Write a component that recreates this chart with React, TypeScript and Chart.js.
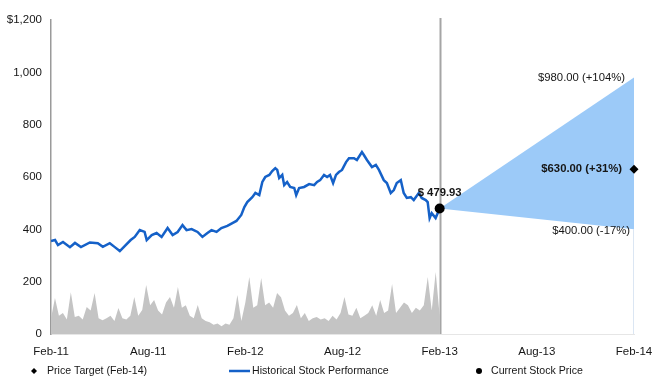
import React, { useEffect, useRef } from 'react';
import { Chart, registerables } from 'chart.js';

Chart.register(...registerables);

// ---- data ----
const xTickLabels = ['Feb-11', 'Aug-11', 'Feb-12', 'Aug-12', 'Feb-13', 'Aug-13', 'Feb-14'];
const yTickValues = [0, 200, 400, 600, 800, 1000, 1200];

// months since Feb-11
const priceMonths = [0, 0.25, 0.43, 0.74, 1.17, 1.48, 1.85, 2.4, 2.89, 3.2, 3.63, 3.94, 4.25, 4.55, 4.92, 5.17, 5.48, 5.78, 5.91, 6.22, 6.52, 6.83, 7.2, 7.51, 7.82, 8.12, 8.37, 8.68, 9.05, 9.35, 9.66, 9.91, 10.22, 10.52, 10.89, 11.2, 11.45, 11.75, 11.94, 12.12, 12.43, 12.62, 12.86, 13.05, 13.23, 13.48, 13.66, 13.85, 13.97, 14.09, 14.28, 14.4, 14.58, 14.77, 15.02, 15.14, 15.32, 15.63, 15.94, 16.25, 16.43, 16.62, 16.86, 17.05, 17.23, 17.42, 17.6, 17.78, 17.97, 18.22, 18.4, 18.71, 18.89, 19.2, 19.32, 19.51, 19.82, 20.06, 20.25, 20.55, 20.74, 20.98, 21.17, 21.35, 21.6, 21.78, 21.97, 22.22, 22.4, 22.71, 22.89, 23.14, 23.26, 23.38, 23.51, 23.75, 24];
const priceValues = [355, 359, 340, 352, 332, 348, 332, 350, 347, 333, 347, 332, 317, 336, 359, 371, 397, 390, 359, 378, 386, 371, 405, 378, 390, 416, 397, 401, 390, 371, 386, 397, 390, 405, 413, 424, 432, 455, 485, 504, 523, 539, 531, 581, 600, 608, 623, 634, 627, 596, 608, 569, 581, 562, 558, 531, 558, 562, 573, 569, 581, 588, 608, 600, 608, 577, 608, 619, 627, 657, 672, 672, 665, 695, 684, 665, 638, 646, 627, 588, 577, 539, 550, 577, 588, 539, 520, 523, 512, 539, 520, 512, 504, 443, 462, 443, 479.93];

// volume (drawn in price-axis units), evenly spaced Feb-11 .. Feb-13
const volumeValues = [60, 138, 70, 80, 55, 160, 65, 70, 55, 103, 90, 157, 60, 53, 60, 70, 50, 99, 60, 55, 70, 141, 70, 92, 187, 110, 130, 90, 75, 120, 141, 100, 180, 100, 110, 70, 60, 111, 60, 50, 45, 35, 40, 30, 40, 35, 60, 149, 50, 120, 218, 100, 110, 214, 110, 120, 100, 157, 140, 90, 70, 80, 111, 60, 80, 50, 60, 65, 55, 60, 50, 70, 55, 80, 141, 75, 70, 100, 60, 70, 80, 110, 70, 130, 80, 90, 191, 80, 100, 120, 110, 80, 100, 90, 110, 218, 90, 237, 70];

const currentMonth = 24;
const currentPrice = 479.93;
const targetMonth = 36;
const targetHigh = 980;
const targetBase = 630;
const targetLow = 400;

const legendLabels = ['Price Target (Feb-14)', 'Historical Stock Performance', 'Current Stock Price'];

// ---- styles ----
const FONT = '"Liberation Sans", Arial, Helvetica, sans-serif';
const TEXT = '#161616';
const BLUE = '#1561c8';
const FAN = '#9ccaf8';
const VOL = '#c4c4c4';

const pct = (v: number) => {
  const p = Math.round((v / currentPrice - 1) * 100);
  return (p >= 0 ? '+' : '') + p + '%';
};

const overlayPlugin = {
  id: 'overlay',
  afterDatasetDraw(chart: any, args: any) {
    if (args.index !== 0) return;
    const { ctx, chartArea, scales } = chart;
    const x = scales.x;
    const y = scales.y;
    ctx.save();
    const xc = Math.round(x.getPixelForValue(currentMonth)) + 0.5;
    ctx.strokeStyle = '#a5a5a5';
    ctx.lineWidth = 2;
    ctx.beginPath();
    ctx.moveTo(xc, chartArea.top - 2);
    ctx.lineTo(xc, chartArea.bottom);
    ctx.stroke();
    const xr = Math.round(x.getPixelForValue(targetMonth)) - 0.5;
    ctx.strokeStyle = '#dbe6f3';
    ctx.lineWidth = 1;
    ctx.beginPath();
    ctx.moveTo(xr, y.getPixelForValue(targetLow));
    ctx.lineTo(xr, chartArea.bottom);
    ctx.stroke();
    ctx.restore();
  },
  afterDatasetsDraw(chart: any) {
    const { ctx, scales } = chart;
    const x = scales.x;
    const y = scales.y;
    const xt = x.getPixelForValue(targetMonth);
    ctx.save();
    ctx.fillStyle = TEXT;
    ctx.textBaseline = 'middle';
    ctx.textAlign = 'right';
    ctx.font = `11.3px ${FONT}`;
    ctx.fillText(`$${targetHigh.toFixed(2)} (${pct(targetHigh)})`, xt - 9, y.getPixelForValue(targetHigh));
    ctx.fillText(`$${targetLow.toFixed(2)} (${pct(targetLow)})`, xt - 4, y.getPixelForValue(targetLow) + 2);
    ctx.font = `bold 11.3px ${FONT}`;
    ctx.fillText(`$${targetBase.toFixed(2)} (${pct(targetBase)})`, xt - 12, y.getPixelForValue(targetBase));
    ctx.textAlign = 'center';
    ctx.fillText(`$ ${currentPrice.toFixed(2)}`, x.getPixelForValue(currentMonth), y.getPixelForValue(currentPrice) - 16);
    ctx.restore();
  },
  afterDraw(chart: any) {
    const { ctx } = chart;
    const ly = 371;
    ctx.save();
    ctx.fillStyle = '#000';
    // diamond
    ctx.beginPath();
    ctx.moveTo(34, ly - 3);
    ctx.lineTo(37, ly);
    ctx.lineTo(34, ly + 3);
    ctx.lineTo(31, ly);
    ctx.closePath();
    ctx.fill();
    // line
    ctx.strokeStyle = BLUE;
    ctx.lineWidth = 2.5;
    ctx.beginPath();
    ctx.moveTo(229, ly);
    ctx.lineTo(250, ly);
    ctx.stroke();
    // dot
    ctx.beginPath();
    ctx.arc(479, ly, 3, 0, Math.PI * 2);
    ctx.fill();
    ctx.fillStyle = TEXT;
    ctx.font = `10.6px ${FONT}`;
    ctx.textBaseline = 'middle';
    ctx.textAlign = 'left';
    ctx.fillText(legendLabels[0], 47, ly);
    ctx.fillText(legendLabels[1], 252, ly);
    ctx.fillText(legendLabels[2], 491, ly);
    ctx.restore();
  },
};

export default function App() {
  const canvasRef = useRef<HTMLCanvasElement | null>(null);

  useEffect(() => {
    if (!canvasRef.current) return;
    const volN = volumeValues.length;
    const volumeData = volumeValues.map((v, i) => ({ x: (i * currentMonth) / (volN - 1), y: v }));
    const n = Math.min(priceMonths.length, priceValues.length);
    const priceData = priceMonths.slice(0, n).map((m, i) => ({ x: m, y: priceValues[i] }));

    const chart = new Chart(canvasRef.current, {
      type: 'line',
      data: {
        datasets: [
          {
            label: 'Volume',
            data: volumeData,
            borderWidth: 0,
            borderColor: VOL,
            backgroundColor: VOL,
            fill: 'origin',
            pointRadius: 0,
            tension: 0,
            order: 6,
          },
          {
            label: legendLabels[1],
            data: priceData,
            borderColor: BLUE,
            borderWidth: 2.5,
            pointRadius: 0,
            fill: false,
            tension: 0,
            order: 3,
          },
          {
            label: 'Fan high',
            data: [
              { x: currentMonth, y: currentPrice },
              { x: targetMonth, y: targetHigh },
            ],
            borderWidth: 0,
            borderColor: FAN,
            backgroundColor: FAN,
            pointRadius: 0,
            fill: '+1',
            tension: 0,
            order: 5,
          },
          {
            label: 'Fan low',
            data: [
              { x: currentMonth, y: currentPrice },
              { x: targetMonth, y: targetLow },
            ],
            borderWidth: 0,
            borderColor: FAN,
            backgroundColor: FAN,
            pointRadius: 0,
            fill: false,
            tension: 0,
            order: 5,
          },
          {
            label: legendLabels[2],
            data: [{ x: currentMonth, y: currentPrice }],
            showLine: false,
            pointRadius: 5,
            pointBackgroundColor: '#000',
            pointBorderColor: '#000',
            pointBorderWidth: 0,
            order: 1,
          },
          {
            label: legendLabels[0],
            data: [{ x: targetMonth, y: targetBase }],
            showLine: false,
            pointStyle: 'rectRot',
            pointRadius: 4.5,
            pointBackgroundColor: '#000',
            pointBorderColor: '#000',
            pointBorderWidth: 0,
            clip: false,
            order: 1,
          } as any,
        ],
      },
      options: {
        responsive: false,
        animation: false,
        devicePixelRatio: 1,
        events: [],
        layout: { padding: { left: 0, right: 26, top: 20, bottom: 0 } },
        plugins: {
          legend: { display: false },
          tooltip: { enabled: false },
        },
        scales: {
          x: {
            type: 'linear',
            min: 0,
            max: 36,
            afterBuildTicks: (s: any) => {
              s.ticks = xTickLabels.map((_, i) => ({ value: i * 6 }));
            },
            afterFit: (s: any) => {
              s.height = 49;
              s.paddingLeft = 0;
              s.paddingRight = 0;
            },
            ticks: {
              autoSkip: false,
              maxRotation: 0,
              padding: 11,
              color: TEXT,
              font: { family: FONT, size: 11.5 },
              callback: (v: any) => xTickLabels[Math.round(Number(v) / 6)] ?? '',
            },
            grid: { display: false, drawTicks: false },
            border: { display: true, color: '#e6e6e6', width: 1 },
          },
          y: {
            type: 'linear',
            min: 0,
            max: 1200,
            afterBuildTicks: (s: any) => {
              s.ticks = yTickValues.map((v) => ({ value: v }));
            },
            afterFit: (s: any) => {
              s.width = 51;
              s.paddingTop = 0;
              s.paddingBottom = 0;
            },
            ticks: {
              padding: 9,
              color: TEXT,
              font: { family: FONT, size: 11.5 },
              callback: (v: any) => {
                const num = Number(v);
                const s = num.toLocaleString('en-US');
                return num === yTickValues[yTickValues.length - 1] ? '$' + s : s;
              },
            },
            grid: { display: false, drawTicks: false },
            border: { display: true, color: '#9a9a9a', width: 1.5 },
          },
        },
      },
      plugins: [overlayPlugin],
    });
    return () => chart.destroy();
  }, []);

  return (
    <div style={{ position: 'fixed', left: 0, top: 0, width: 660, height: 383, background: '#fff' }}>
      <canvas ref={canvasRef} width={660} height={383} style={{ display: 'block' }} />
    </div>
  );
}
